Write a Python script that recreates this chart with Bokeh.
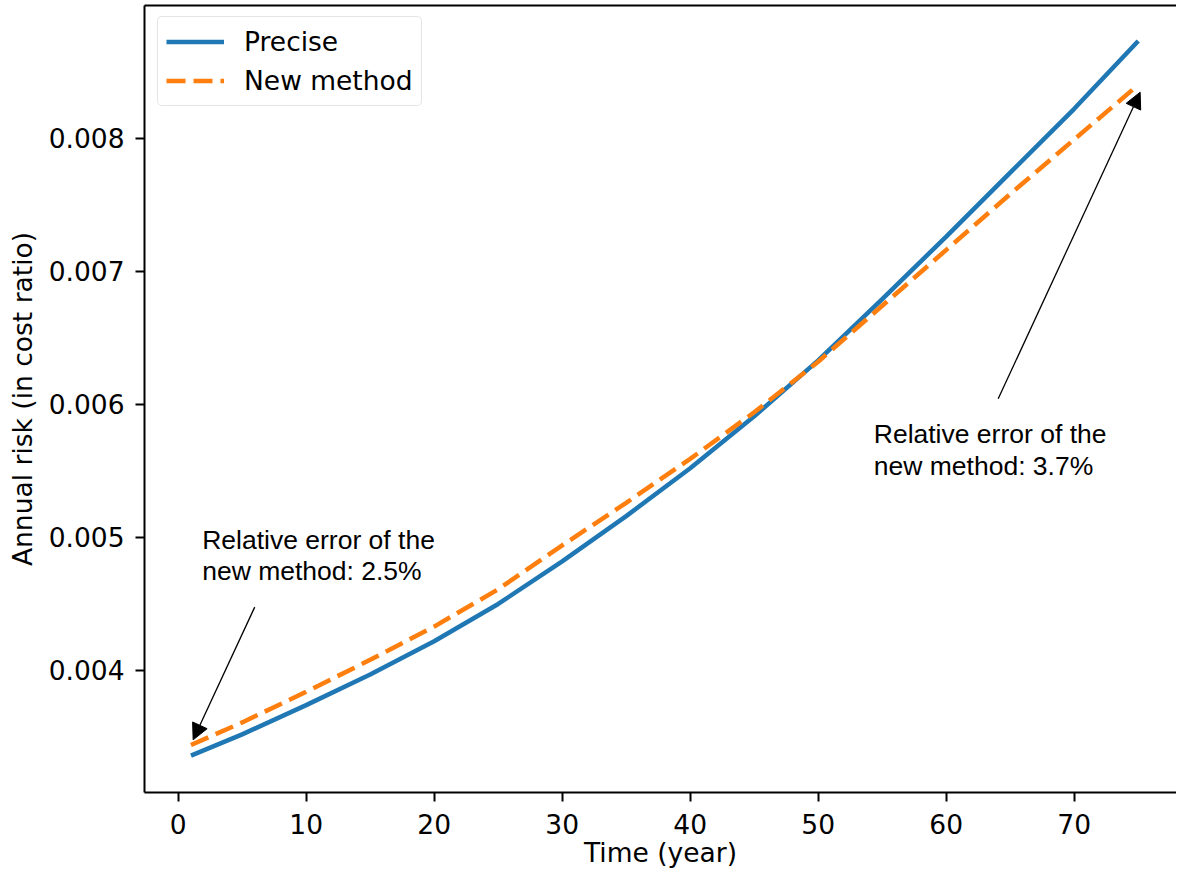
from bokeh.plotting import figure
from bokeh.models import (Range1d, LinearAxis, FixedTicker, Arrow, NormalHead,
                          Legend, LegendItem, PrintfTickFormatter)
from bokeh.core.properties import value
from bokeh.embed import file_html
from bokeh.resources import INLINE

# ---- data ----
years = [1, 5, 10, 15, 20, 25, 30, 35, 40, 45, 50, 55, 60, 65, 70, 75]
precise = [0.00336, 0.00352, 0.00374, 0.00397, 0.00422, 0.00450, 0.00482, 0.00516,
           0.00552, 0.00591, 0.00633, 0.00679, 0.00726, 0.00774, 0.00822, 0.00873]
new_method = [0.00344, 0.00361, 0.00384, 0.00408, 0.00433, 0.00461, 0.00494, 0.00526,
              0.00559, 0.00594, 0.00632, 0.00674, 0.00716, 0.00758, 0.00799, 0.00840]
series_labels = ["Precise", "New method"]
x_ticks = [0, 10, 20, 30, 40, 50, 60, 70]
y_ticks = [0.004, 0.005, 0.006, 0.007, 0.008]
note_left = ["Relative error of the", "new method: 2.5%"]
note_right = ["Relative error of the", "new method: 3.7%"]

TICK_FONT = "DejaVu Sans"
NOTE_FONT = "Liberation Sans"
FS = "26.5px"

p = figure(frame_width=1032, frame_height=787,
           x_range=Range1d(-2.63, 77.99), y_range=Range1d(0.0030834, 0.0089962),
           output_backend="svg", toolbar_location=None,
           min_border_left=144, min_border_right=0, min_border_top=5, min_border_bottom=0,
           x_axis_label="Time (year)", y_axis_label="Annual risk (in cost ratio)")
p.outline_line_color = None
p.grid.visible = False
p.background_fill_color = "white"

for ax in (p.xaxis[0], p.yaxis[0]):
    ax.axis_line_width = 2
    ax.axis_line_color = "black"
    ax.major_tick_in = 0
    ax.major_tick_out = 9
    ax.major_tick_line_width = 2
    ax.major_tick_line_color = "black"
    ax.minor_tick_line_color = None
    ax.major_label_text_font = TICK_FONT
    ax.major_label_text_font_size = FS
    ax.major_label_text_color = "black"
    ax.axis_label_text_font = TICK_FONT
    ax.axis_label_text_font_size = FS
    ax.axis_label_text_font_style = "normal"
    ax.axis_label_text_color = "black"

p.xaxis[0].ticker = FixedTicker(ticks=x_ticks)
p.xaxis[0].formatter = PrintfTickFormatter(format="%d")
p.xaxis[0].major_label_standoff = 12
p.xaxis[0].axis_label_standoff = 0
p.yaxis[0].ticker = FixedTicker(ticks=y_ticks)
p.yaxis[0].formatter = PrintfTickFormatter(format="%.3f")
p.yaxis[0].major_label_standoff = 11
p.yaxis[0].axis_label_standoff = 8

top = LinearAxis(ticker=FixedTicker(ticks=[]), major_label_text_font_size="0px",
                 major_tick_out=0, major_tick_in=0, minor_tick_out=0, minor_tick_in=0,
                 axis_line_width=2, axis_line_color="black", major_label_standoff=0)
p.add_layout(top, "above")

r1 = p.line(years, precise, line_width=4.5, line_color="#1f77b4")
r2 = p.line(years, new_method, line_width=4.5, line_color="#ff7f0e", line_dash="19 8")

legend = Legend(items=[LegendItem(label=series_labels[0], renderers=[r1]),
                       LegendItem(label=series_labels[1], renderers=[r2])],
                location=(13, 686), margin=0,
                label_text_font=TICK_FONT, label_text_font_size=FS, label_text_color="black",
                glyph_width=58, glyph_height=33, label_height=33, label_standoff=20,
                padding=8, spacing=6,
                border_line_color="#cccccc", border_line_width=1.5,
                background_fill_color="white", background_fill_alpha=0.8)
try:
    legend.border_radius = 5
except Exception:
    pass
p.add_layout(legend)

# annotations: arrows and notes
p.add_layout(Arrow(end=NormalHead(size=16, fill_color="black", line_color="black", line_width=1),
                   x_start=5.98, y_start=0.004476, x_end=1.17, y_end=0.003479,
                   line_width=1.3, line_color="black"))
p.add_layout(Arrow(end=NormalHead(size=16, fill_color="black", line_color="black", line_width=1),
                   x_start=64.06, y_start=0.006041, x_end=75.15, y_end=0.008345,
                   line_width=1.3, line_color="black"))

p.text(x=[1.875, 1.875], y=[0.004984, 0.004746], text=note_left,
       text_font=value(NOTE_FONT), text_font_size="26.5px", text_baseline="alphabetic",
       text_align="left", text_color="black")
p.text(x=[54.34, 54.34], y=[0.005778, 0.005540], text=note_right,
       text_font=value(NOTE_FONT), text_font_size="26.5px", text_baseline="alphabetic",
       text_align="left", text_color="black")

open("out.html", "w").write(file_html(p, INLINE))
